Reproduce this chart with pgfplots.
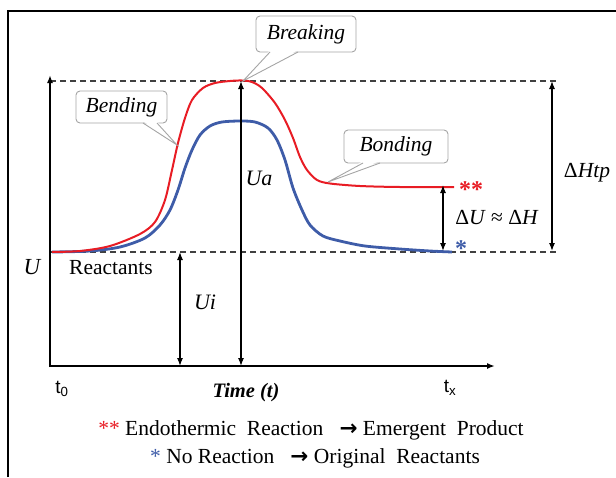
\documentclass[border=0pt]{standalone}
\usepackage{pgfplots}
\pgfplotsset{compat=1.18}
\usepackage{fontspec}
\setmainfont{Liberation Serif}
\newfontfamily\arial{Liberation Sans}
\newfontfamily\djv{DejaVu Sans}
\usetikzlibrary{arrows.meta}
\definecolor{cred}{RGB}{232,28,36}
\definecolor{cblue}{RGB}{62,92,168}
\definecolor{callgray}{RGB}{165,165,165}

\begin{document}
\begin{tikzpicture}[
  big/.style={font=\fontsize{21.5}{24}\selectfont},
  dbl/.style={{Latex[length=8pt,width=6pt]}-{Latex[length=8pt,width=6pt]}, line width=1.2pt},
  callout/.style={draw=callgray, line width=0.9pt, fill=white, rounded corners=4pt,
    font=\fontsize{21.5}{24}\selectfont\itshape, inner sep=0pt},
]
\begin{axis}[
  hide axis, scale only axis,
  width=616pt, height=477pt,
  xmin=0, xmax=616, ymin=0, ymax=477,
  y dir=reverse, clip=false,
]
% frame
\draw[line width=2pt] (8,477) -- (8,11) -- (616,11);

% dashed reference levels
\draw[dashed, dash pattern=on 6pt off 4pt, line width=1.3pt, black!75] (50,81) -- (556,81);
\draw[dashed, dash pattern=on 6pt off 4pt, line width=1.3pt, black!75] (50,252) -- (556,252);

% energy curves
\addplot[cblue, line width=2.8pt, smooth, tension=0.5] coordinates {
  (52,252) (90,251) (120,247) (145,238) (160,225) (170,210) (178,190)
  (185,168) (192,150) (200,135) (210,126) (222,122) (240,121) (255,122)
  (268,128) (277,140) (285,160) (293,188) (302,210) (310,225) (323,236)
  (340,241) (365,246) (400,249) (430,251) (452,252)
};
\addplot[cred, line width=2pt, smooth, tension=0.5] coordinates {
  (52,252) (80,251) (110,246) (140,234) (155,222) (165,200) (172,170)
  (178,143) (185,118) (192,100) (203,88) (215,83) (230,81) (242,80.5)
  (252,82) (262,88) (275,103) (285,120) (293,138) (300,157) (307,170)
  (317,180) (330,183.5) (360,186) (400,187) (454,187)
};

% axes
\draw[-{Latex[length=8pt,width=6pt]}, line width=2pt] (50,367) -- (50,75);
\draw[-{Latex[length=8pt,width=6pt]}, line width=2pt] (49,366) -- (495,366);

% dimension arrows
\draw[dbl] (180,252) -- (180,366);
\draw[dbl] (241,366) -- (241,81);
\draw[dbl] (443,185) -- (443,251);
\draw[dbl] (552,81) -- (552,251);

% labels
\node[font=\fontsize{23}{24}\selectfont\itshape] at (32,267) {U};
\node[big] at (111,268) {Reactants};
\node[font=\fontsize{22}{24}\selectfont\itshape] at (205,302) {Ui};
\node[font=\fontsize{22}{24}\selectfont\itshape] at (259,178) {Ua};
\node[big] at (497,218) {Δ\textit{U} ≈ Δ\textit{H}};
\node[big] at (587,173) {Δ\textit{Htp}};
\node[font=\fontsize{24}{24}\selectfont\bfseries, cred] at (471,190) {**};
\node[font=\fontsize{24}{24}\selectfont\bfseries, cblue] at (461,249) {*};

% callouts
\node[callout, minimum width=100pt, minimum height=36pt] at (306,34) {Breaking};
\fill[white] (270,50) -- (243,81) -- (298,50) -- cycle;
\draw[callgray, line width=0.9pt] (270,52) -- (243,81) -- (298,52);
\node[callout, minimum width=91pt, minimum height=32pt] at (121.5,107) {Bending};
\fill[white] (143,121) -- (177,145) -- (157,121) -- cycle;
\draw[callgray, line width=0.9pt] (143,123) -- (177,145) -- (157,123);
\node[callout, minimum width=104pt, minimum height=33pt] at (396,146.5) {Bonding};
\fill[white] (363,161) -- (328,182) -- (380,161) -- cycle;
\draw[callgray, line width=0.9pt] (363,163) -- (328,182) -- (380,163);

% time axis labels
\node[font=\arial\fontsize{19}{22}\selectfont] at (62,389) {t\textsubscript{0}};
\node[font=\arial\fontsize{19}{22}\selectfont] at (450,388) {t\textsubscript{x}};
\node[font=\fontsize{20.5}{22}\selectfont\bfseries\itshape] at (246,393) {Time (t)};

% legend
\node[big] at (311,430) {\textcolor{cred}{**}~Endothermic~~Reaction~~~{\djv\bfseries →}~Emergent~~Product};
\node[big] at (315,458) {\textcolor{cblue}{*}~No~Reaction~~~{\djv\bfseries →}~Original~~Reactants};
\end{axis}
\pgfresetboundingbox
\useasboundingbox (0,0) rectangle (616pt,477pt);
\end{tikzpicture}
\end{document}
